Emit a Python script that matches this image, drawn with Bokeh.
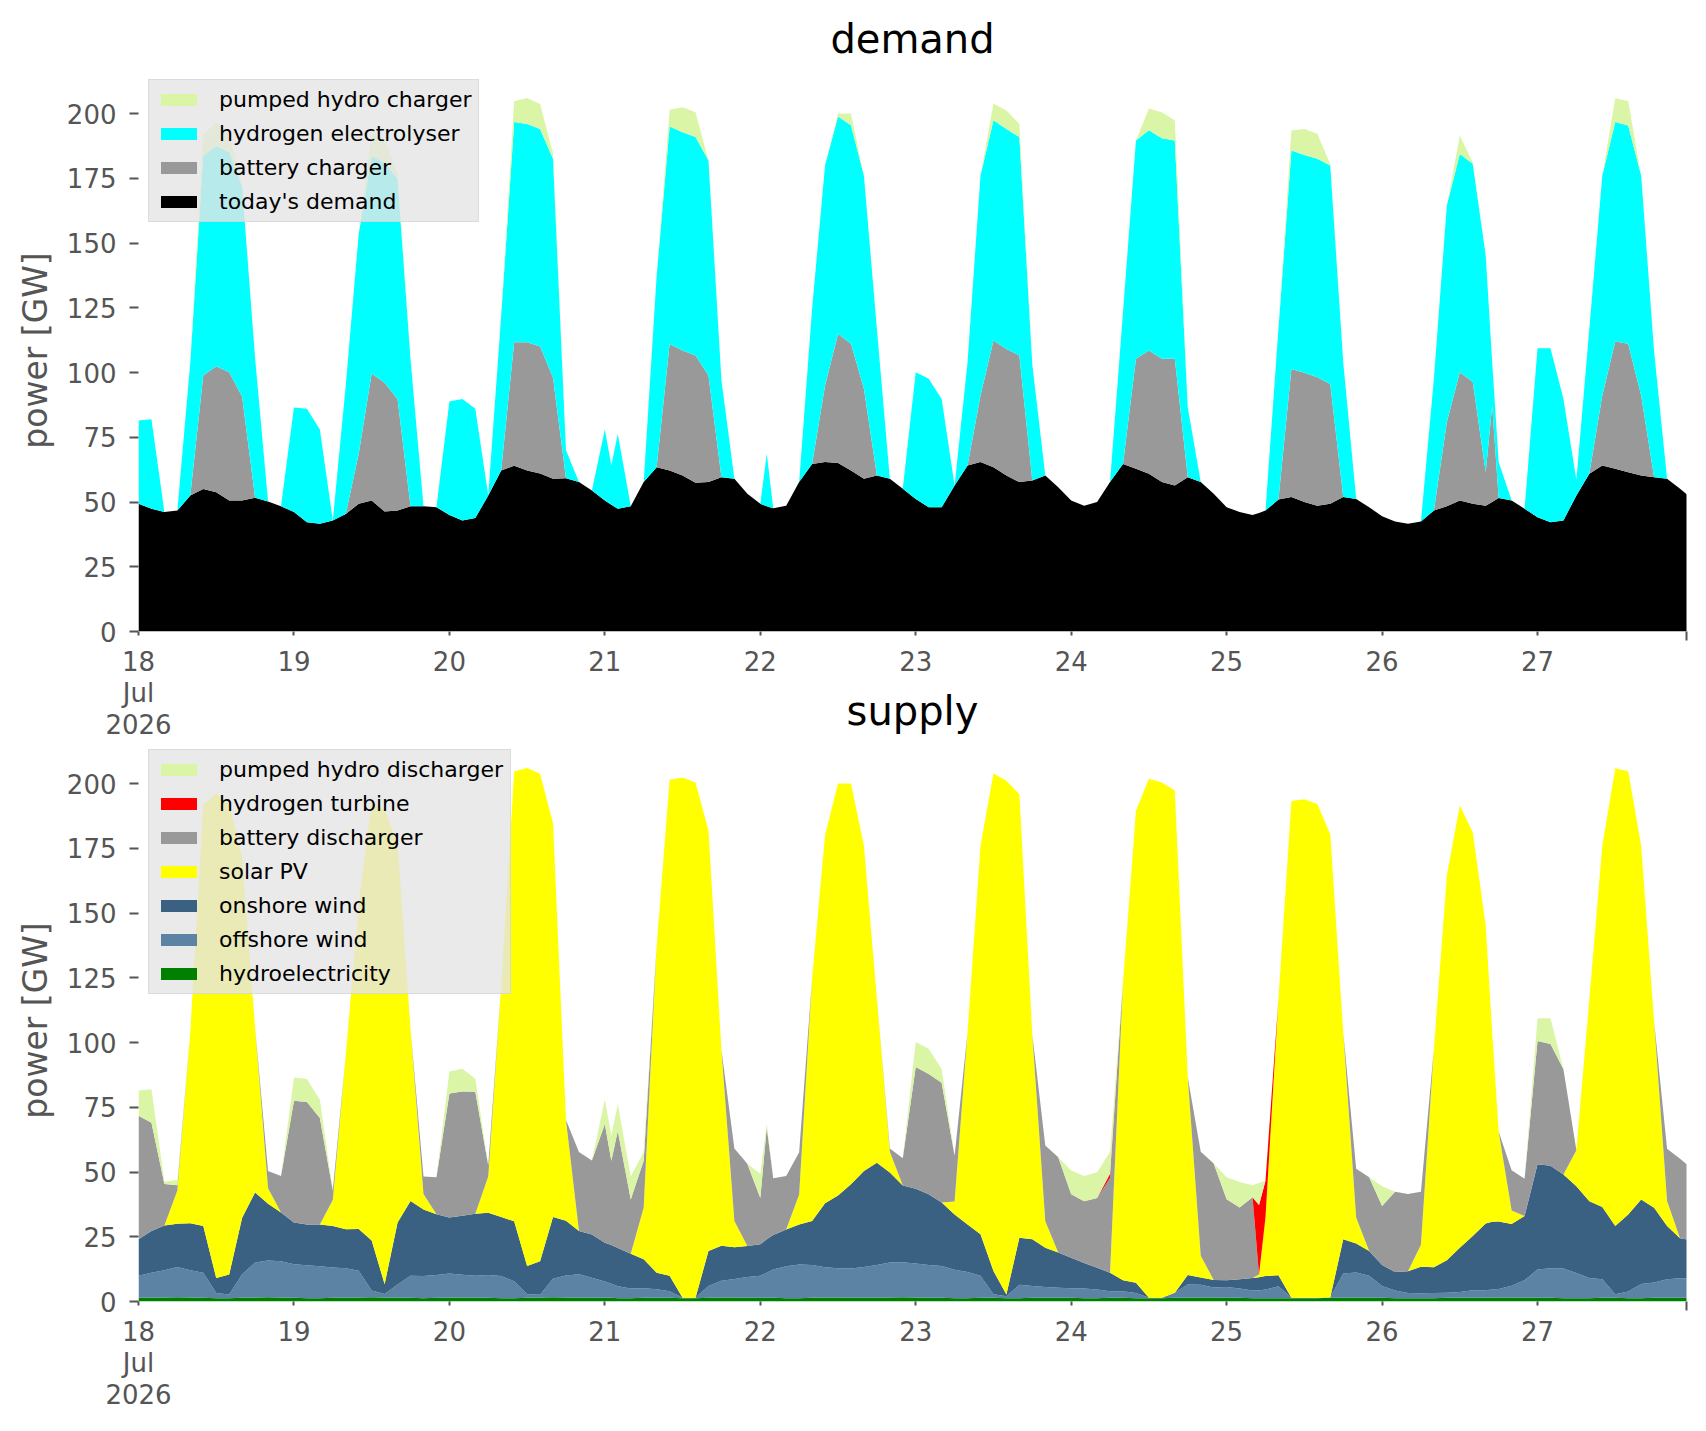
from bokeh.plotting import figure
from bokeh.models import ColumnDataSource, Range1d, FixedTicker, Legend, LegendItem
from bokeh.layouts import column
from bokeh.embed import file_html
from bokeh.resources import INLINE

# ---------------- data: hours since 18 Jul 2026 00:00 ----------------
# read every 2 hours, plus four odd hours where short spikes occur
hours = [
    0, 2, 4, 6, 8, 10, 12, 14, 16, 18, 20, 22,
    24, 26, 28, 30, 32, 34, 36, 38, 40, 42, 44, 46,
    48, 50, 52, 54, 56, 58, 60, 62, 64, 66, 68, 70,
    72, 73, 74, 76, 78, 80, 82, 84, 86, 88, 90, 92, 94,
    96, 97, 98, 100, 102, 104, 106, 108, 110, 112, 114, 116, 118,
    120, 122, 124, 126, 128, 130, 132, 134, 136, 138, 140, 142,
    144, 146, 148, 150, 152, 154, 156, 158, 160, 162, 164, 166,
    168, 170, 172, 173, 174, 176, 178, 180, 182, 184, 186, 188, 190,
    192, 194, 196, 198, 200, 202, 204, 206, 208, 209, 210, 212, 214,
    216, 218, 220, 222, 224, 226, 228, 230, 232, 234, 236, 238,
    240]
day_ticks = [0, 24, 48, 72, 96, 120, 144, 168, 192, 216]
day_labels = ["18\nJul\n2026", "19", "20", "21", "22", "23", "24", "25", "26", "27"]
y_ticks = [0, 25, 50, 75, 100, 125, 150, 175, 200]

# demand side [GW]
todays_demand = [
    49.3, 47.4, 46.1, 46.7, 52.5, 55.0, 53.8, 50.6, 50.6, 51.6, 50.2, 48.4,
    46.1, 42.2, 41.6, 42.9, 45.4, 49.3, 50.6, 46.3, 46.7, 48.4, 48.4, 48.0,
    45.0, 42.9, 43.8, 52.5, 62.2, 64.0, 62.2, 61.0, 59.0, 59.2, 57.7, 54.4,
    50.6, 48.9, 47.4, 48.4, 57.7, 63.4, 62.2, 60.2, 57.4, 57.7, 59.6, 59.0, 53.2,
    49.3, 48.4, 47.6, 48.6, 57.7, 64.7, 65.4, 65.1, 62.2, 59.0, 60.2, 59.0, 55.1,
    51.2, 48.0, 48.0, 56.4, 64.1, 65.4, 63.4, 60.2, 57.7, 58.3, 60.2, 55.7,
    50.6, 48.6, 50.0, 57.7, 64.7, 62.8, 60.9, 57.7, 56.4, 59.6, 57.7, 53.2,
    48.0, 46.1, 45.0, 45.8, 46.7, 51.0, 51.9, 50.0, 48.6, 49.3, 51.9, 51.2, 48.0,
    44.5, 42.5, 41.6, 42.5, 46.7, 48.4, 50.6, 49.3, 48.6, 50.0, 51.5, 50.6, 47.4,
    44.1, 42.2, 42.9, 52.5, 60.9, 64.1, 62.8, 61.5, 60.2, 59.6, 59.0, 55.1,
    51.0]
battery_charger = [
    0, 0, 0, 0, 0, 43.8, 48.6, 49.5, 40.0, 0, 0, 0,
    0, 0, 0, 0, 0, 19.3, 49.0, 49.7, 43.0, 0, 0, 0,
    0, 0, 0, 0, 0, 47.7, 49.5, 49.0, 39.0, 0, 0, 0,
    0, 0, 0, 0, 0, 0, 48.8, 48.3, 49.2, 41.1, 0, 0, 0,
    0, 0, 0, 0, 0, 0, 29.6, 49.8, 48.9, 34.7, 0, 0, 0,
    0, 0, 0, 0, 0, 25.7, 49.0, 48.9, 48.9, 0, 0, 0,
    0, 0, 0, 0, 0, 42.5, 47.6, 47.6, 48.9, 0, 0, 0,
    0, 0, 0, 0, 0, 0, 49.5, 49.9, 49.6, 46.3, 0, 0, 0,
    0, 0, 0, 0, 0, 32.4, 49.5, 47.0, 12.9, 37.3, 0, 0, 0,
    0, 0, 0, 0, 0, 27.0, 49.2, 49.6, 30.9, 0, 0, 0,
    0]
hydrogen_electrolyser = [
    32.2, 34.6, 0, 0, 51.5, 85.0, 85.0, 85.0, 81.0, 54.0, 0, 0,
    40.4, 43.8, 36.4, 0, 49.6, 85.0, 84.0, 85.0, 85.0, 56.6, 0, 0,
    43.8, 46.9, 42.2, 0, 59.8, 85.0, 84.3, 84.0, 84.5, 10.8, 0, 0,
    27.4, 15.2, 28.9, 0, 0, 74.0, 84.0, 84.3, 84.3, 83.1, 37.4, 0, 0,
    0, 20.2, 0, 0, 0, 59.9, 85.0, 84.0, 84.4, 82.3, 56.7, 0, 0,
    48.9, 49.6, 41.8, 0, 39.9, 85.0, 85.0, 84.9, 84.3, 44.7, 0, 0,
    0, 0, 0, 0, 58.6, 84.3, 85.0, 85.2, 84.3, 26.9, 0, 0,
    0, 0, 0, 0, 0, 65.9, 84.3, 84.1, 84.3, 84.3, 52.1, 0, 0,
    0, 0, 0, 0, 50.9, 83.7, 84.3, 84.3, 83.7, 16.7, 13.9, 0, 0,
    65.3, 67.2, 46.9, 6.0, 56.0, 85.0, 84.7, 84.3, 85.0, 48.4, 0, 0,
    0]
pumped_hydro_charger = [
    0, 0, 0, 0, 0, 8.0, 9.0, 7.0, 0, 0, 0, 0,
    0, 0, 0, 0, 0, 0, 9.0, 9.0, 2.0, 0, 0, 0,
    0, 0, 0, 0, 0, 8.0, 10.0, 9.7, 2.0, 0, 0, 0,
    0, 0, 0, 0, 0, 0, 6.5, 9.6, 9.6, 0, 0, 0, 0,
    0, 0, 0, 0, 0, 0, 0, 1.0, 4.5, 0, 0, 0, 0,
    0, 0, 0, 0, 0, 0, 6.5, 7.2, 5.1, 0, 0, 0,
    0, 0, 0, 0, 0, 0, 8.4, 10.0, 7.7, 0, 0, 0,
    0, 0, 0, 0, 0, 0, 7.7, 10.0, 9.7, 0.5, 0, 0, 0,
    0, 0, 0, 0, 0, 0, 7.1, 0.5, 0, 0, 0, 0, 0,
    0, 0, 0, 0, 0, 0, 9.2, 9.4, 0, 0, 0, 0,
    0]

# supply side [GW]
hydroelectricity = [
    1.4, 1.4, 1.5, 1.6, 1.5, 1.4, 1.3, 1.3, 1.4, 1.5, 1.6, 1.5,
    1.4, 1.3, 1.3, 1.4, 1.4, 1.5, 1.6, 1.5, 1.4, 1.4, 1.3, 1.4,
    1.4, 1.5, 1.4, 1.4, 1.3, 1.3, 1.4, 1.5, 1.6, 1.5, 1.4, 1.4,
    1.4, 1.4, 1.3, 1.3, 1.4, 1.4, 1.4, 1.3, 1.3, 1.4, 1.5, 1.5, 1.4,
    1.4, 1.4, 1.4, 1.3, 1.3, 1.4, 1.5, 1.5, 1.4, 1.4, 1.4, 1.5, 1.6,
    1.5, 1.4, 1.4, 1.3, 1.3, 1.4, 1.4, 1.3, 1.3, 1.4, 1.4, 1.4,
    1.4, 1.3, 1.3, 1.4, 1.4, 1.3, 1.3, 1.3, 1.4, 1.4, 1.5, 1.5,
    1.4, 1.4, 1.3, 1.3, 1.3, 1.3, 1.3, 1.3, 1.3, 1.4, 1.4, 1.5, 1.4,
    1.4, 1.3, 1.3, 1.3, 1.3, 1.4, 1.4, 1.4, 1.4, 1.4, 1.5, 1.5, 1.4,
    1.4, 1.4, 1.3, 1.3, 1.3, 1.4, 1.4, 1.3, 1.3, 1.4, 1.4, 1.4,
    1.4]
offshore_wind = [
    8.5, 9.7, 10.6, 11.7, 10.6, 9.7, 2.0, 1.4, 9.1, 13.6, 14.2, 14.0,
    13.0, 12.7, 12.3, 11.7, 11.4, 10.4, 2.6, 1.4, 5.2, 8.5, 8.5, 8.8,
    9.4, 8.8, 8.5, 8.8, 8.5, 6.5, 1.4, 1.1, 7.2, 8.5, 9.1, 7.8,
    6.3, 5.5, 4.6, 3.7, 3.7, 3.3, 2.6, 0.1, 0.1, 4.6, 6.5, 7.2, 8.1,
    8.5, 9.7, 11.0, 12.3, 13.0, 12.7, 11.7, 11.3, 11.3, 11.9, 12.7, 13.6, 13.6,
    13.2, 12.7, 12.3, 11.0, 10.1, 8.5, 1.4, 0.7, 5.2, 4.6, 4.2, 3.9,
    3.7, 3.7, 3.3, 2.6, 2.6, 2.0, 0.1, 0.1, 2.0, 5.2, 5.0, 3.9,
    4.2, 3.6, 2.9, 2.9, 3.3, 4.6, 0.1, 0.1, 0.1, 0.1, 9.4, 9.7, 8.5,
    4.6, 2.9, 2.0, 1.9, 2.0, 2.0, 2.3, 2.9, 2.9, 3.2, 3.3, 4.6, 6.8,
    11.0, 11.4, 11.4, 9.7, 7.8, 7.2, 1.4, 2.6, 5.5, 5.9, 7.2, 7.6,
    7.6]
onshore_wind = [
    14.1, 16.1, 17.2, 16.7, 18.1, 18.1, 5.8, 7.7, 21.8, 27.0, 21.9, 18.9,
    16.1, 15.7, 16.1, 16.1, 15.1, 16.1, 19.4, 3.8, 23.9, 28.9, 25.7, 23.5,
    21.6, 22.8, 24.0, 24.1, 22.8, 23.2, 10.9, 12.9, 23.8, 21.2, 16.7, 16.7,
    15.0, 14.9, 14.8, 13.4, 11.2, 6.4, 5.9, 0.0, 0.0, 13.5, 13.5, 12.2, 11.9,
    12.2, 12.9, 13.3, 14.2, 15.4, 17.0, 24.7, 28.1, 32.6, 37.1, 39.5, 34.7, 29.6,
    28.8, 27.3, 24.5, 21.3, 18.3, 16.1, 9.0, 0.7, 18.1, 18.0, 15.2, 13.6,
    11.8, 9.9, 8.4, 7.1, 4.2, 3.9, 0.0, 0.0, 0.0, 3.6, 2.8, 2.9,
    2.6, 3.6, 4.9, 5.2, 5.2, 4.2, 0.0, 0.0, 0.0, 0.0, 13.2, 11.2, 9.6,
    8.1, 7.2, 8.4, 10.2, 9.9, 12.5, 17.1, 21.0, 25.8, 26.2, 26.1, 23.8, 24.8,
    40.6, 39.6, 36.3, 33.5, 29.6, 27.9, 26.4, 29.7, 32.6, 28.9, 20.6, 15.4,
    14.5]
solar_pv = [
    0, 0, 0, 12.9, 73.9, 162.6, 187.2, 181.6, 139.3, 63.6, 6.0, 0,
    0, 0, 0, 10.0, 67.1, 125.7, 169.2, 183.4, 146.2, 66.2, 6.0, 0,
    0, 0, 0, 14.0, 89.3, 173.6, 192.3, 188.3, 152.1, 38.9, 0, 0,
    0, 0, 0, 0, 20.0, 126.3, 191.6, 200.9, 199.0, 162.4, 75.6, 10.2, 0,
    0, 0, 0, 0, 11.6, 93.5, 142.2, 159.1, 154.7, 125.6, 63.3, 8.0, 0,
    0, 0, 0, 5.0, 74.2, 150.1, 192.1, 198.4, 171.3, 79.0, 10.2, 0,
    0, 0, 0, 0, 115.1, 182.3, 200.4, 199.0, 193.9, 76.3, 8.4, 0,
    0, 0, 0, 1.0, 22.7, 106.7, 191.9, 192.5, 190.7, 178.9, 80.0, 10.0, 0,
    0, 0, 0, 8.5, 84.3, 148.6, 170.7, 155.8, 115.1, 73.2, 34.6, 5.2, 0,
    0, 0, 0, 13.9, 78.1, 139.6, 176.7, 171.1, 136.6, 71.8, 9.6, 0,
    0]
battery_discharger = [
    47.7, 41.8, 16.1, 2.0, 0, 0, 0, 0, 0, 0, 6.7, 14.1,
    47.0, 47.3, 41.2, 3.7, 0, 0, 0, 0, 0, 0, 6.8, 14.3,
    47.9, 48.0, 47.1, 4.2, 0, 0, 0, 0, 0, 0, 30.5, 28.5,
    45.8, 32.5, 45.1, 21.0, 18.0, 0, 0, 0, 0, 0, 0, 28.0, 31.8,
    17.9, 43.2, 21.9, 20.7, 16.3, 0, 0, 0, 0, 0, 0, 1.3, 10.5,
    47.0, 46.4, 46.3, 17.7, 0, 0, 0, 0, 0, 0, 29.2, 36.8,
    24.5, 23.8, 27.0, 36.7, 0, 0, 0, 0, 0, 0, 40.1, 45.0,
    31.3, 27.7, 31.2, 0, 0, 0, 0, 0, 0, 0, 0, 18.9, 28.5,
    22.8, 31.0, 29.8, 20.5, 0, 0, 0, 0, 0, 0, 0, 15.6, 14.4,
    47.6, 47.0, 40.7, 0, 0, 0, 0, 0, 0, 0, 20.2, 30.7,
    27.5]
hydrogen_turbine = [
    0, 0, 0, 0, 0, 0, 0, 0, 0, 0, 0, 0,
    0, 0, 0, 0, 0, 0, 0, 0, 0, 0, 0, 0,
    0, 0, 0, 0, 0, 0, 0, 0, 0, 0, 0, 0,
    0, 0, 0, 0, 0, 0, 0, 0, 0, 0, 0, 0, 0,
    0, 0, 0, 0, 0, 0, 0, 0, 0, 0, 0, 0, 0,
    0, 0, 0, 0, 0, 0, 0, 0, 0, 0, 0, 0,
    0, 0, 0, 1.5, 0, 0, 0, 0, 0, 0, 0, 0,
    0, 0, 0, 26.9, 14.1, 0, 0, 0, 0, 0, 0, 0, 0,
    0, 0, 0, 0, 0, 0, 0, 0, 0, 0, 0, 0, 0,
    0, 0, 0, 0, 0, 0, 0, 0, 0, 0, 0, 0,
    0]
pumped_hydro_discharger = [
    9.8, 13.0, 0.8, 2.0, 0, 0, 0, 0, 0, 0, 0, 0,
    9.0, 8.9, 7.0, 0, 0, 0, 0, 0, 0, 0, 0, 0,
    8.5, 8.8, 5.0, 0, 0, 0, 0, 0, 0, 0, 0, 0,
    9.5, 9.8, 10.4, 8.9, 3.4, 0, 0, 0, 0, 0, 0, 0, 0,
    9.3, 1.4, 0, 0, 0, 0, 0, 0, 0, 0, 0, 0, 0,
    9.7, 9.8, 5.3, 0, 0, 0, 0, 0, 0, 0, 0, 0,
    9.2, 9.8, 9.9, 8.4, 0, 0, 0, 0, 0, 0, 0, 0,
    8.5, 9.8, 4.6, 8.5, 0, 0, 0, 0, 0, 0, 0, 0, 0,
    7.6, 0, 0, 0, 0, 0, 0, 0, 0, 0, 0, 0, 0,
    8.8, 10.0, 0, 0, 0, 0, 0, 0, 0, 0, 0, 0,
    0]

demand_series = [
    ("today's demand", todays_demand, "#000000"),
    ("battery charger", battery_charger, "#999999"),
    ("hydrogen electrolyser", hydrogen_electrolyser, "#00ffff"),
    ("pumped hydro charger", pumped_hydro_charger, "#daf5a6"),
]
supply_series = [
    ("hydroelectricity", hydroelectricity, "#008000"),
    ("offshore wind", offshore_wind, "#5c82a4"),
    ("onshore wind", onshore_wind, "#3a6082"),
    ("solar PV", solar_pv, "#ffff00"),
    ("battery discharger", battery_discharger, "#999999"),
    ("hydrogen turbine", hydrogen_turbine, "#ff0000"),
    ("pumped hydro discharger", pumped_hydro_discharger, "#daf5a6"),
]

FONT = "DejaVu Sans"
GREY = "#555555"


def make_panel(series, title, border_top, border_bottom, title_standoff):
    p = figure(frame_width=1548, frame_height=562,
               x_range=Range1d(0, 239), y_range=Range1d(0, 217),
               output_backend="svg", toolbar_location=None,
               min_border_left=138, min_border_right=10,
               min_border_top=border_top, min_border_bottom=border_bottom,
               title=title)
    p.outline_line_color = None
    p.xgrid.visible = False
    p.ygrid.visible = False

    data = {"h": hours}
    names = []
    for i, (lab, vals, col) in enumerate(series):
        key = "s%d" % i
        data[key] = vals
        names.append(key)
    src = ColumnDataSource(data)
    rends = p.varea_stack(stackers=names, x="h", source=src,
                          color=[c for _, _, c in series])

    items = [LegendItem(label=lab, renderers=[r])
             for (lab, _, _), r in zip(series, rends)]
    items.reverse()
    leg = Legend(items=items, location="top_left")
    leg.margin = 10
    leg.padding = 7
    leg.spacing = 9
    leg.label_height = 24
    leg.glyph_width = 45
    leg.glyph_height = 15
    leg.label_standoff = 18
    leg.label_text_font = FONT
    leg.label_text_font_size = "22px"
    leg.label_text_color = "#000000"
    leg.background_fill_color = "#e5e5e5"
    leg.background_fill_alpha = 0.8
    leg.border_line_color = "#cccccc"
    leg.border_line_width = 1.5
    p.add_layout(leg)

    xa = p.xaxis[0]
    xa.ticker = FixedTicker(ticks=day_ticks, minor_ticks=[239])
    xa.major_label_overrides = {t: l for t, l in zip(day_ticks, day_labels)}
    xa.axis_line_color = None
    xa.major_tick_out = 4
    xa.major_tick_in = 0
    xa.minor_tick_out = 9
    xa.minor_tick_in = 0
    xa.major_tick_line_color = GREY
    xa.minor_tick_line_color = GREY
    xa.major_tick_line_width = 2
    xa.minor_tick_line_width = 2
    xa.major_label_standoff = 6
    xa.major_label_text_color = GREY
    xa.major_label_text_font = FONT
    xa.major_label_text_font_size = "26px"
    xa.major_label_text_line_height = 1.05

    ya = p.yaxis[0]
    ya.ticker = FixedTicker(ticks=y_ticks)
    ya.axis_line_color = None
    ya.major_tick_out = 9
    ya.major_tick_in = 0
    ya.minor_tick_out = 0
    ya.minor_tick_in = 0
    ya.major_tick_line_color = GREY
    ya.major_tick_line_width = 2
    ya.major_label_standoff = 13
    ya.major_label_text_color = GREY
    ya.major_label_text_font = FONT
    ya.major_label_text_font_size = "26px"
    ya.axis_label = "power [GW]"
    ya.axis_label_text_font = FONT
    ya.axis_label_text_font_size = "33px"
    ya.axis_label_text_font_style = "normal"
    ya.axis_label_text_color = GREY
    ya.axis_label_standoff = 9

    p.title.align = "center"
    p.title.text_font = FONT
    p.title.text_font_size = "40px"
    p.title.text_font_style = "normal"
    p.title.text_color = "#000000"
    p.title.standoff = title_standoff
    return p


p_demand = make_panel(demand_series, "demand", 69, 120, 16)
p_supply = make_panel(supply_series, "supply", 62, 118, 11)

# the lower panel's title sits beside the upper panel's date labels, as in
# the original figure: pull it up and keep its border transparent
p_supply.border_fill_alpha = 0
p_supply.background_fill_alpha = 0
p_supply.margin = (-74, 0, 0, 0)

layout = column(p_demand, p_supply, spacing=0)

open("out.html", "w").write(file_html(layout, INLINE))
